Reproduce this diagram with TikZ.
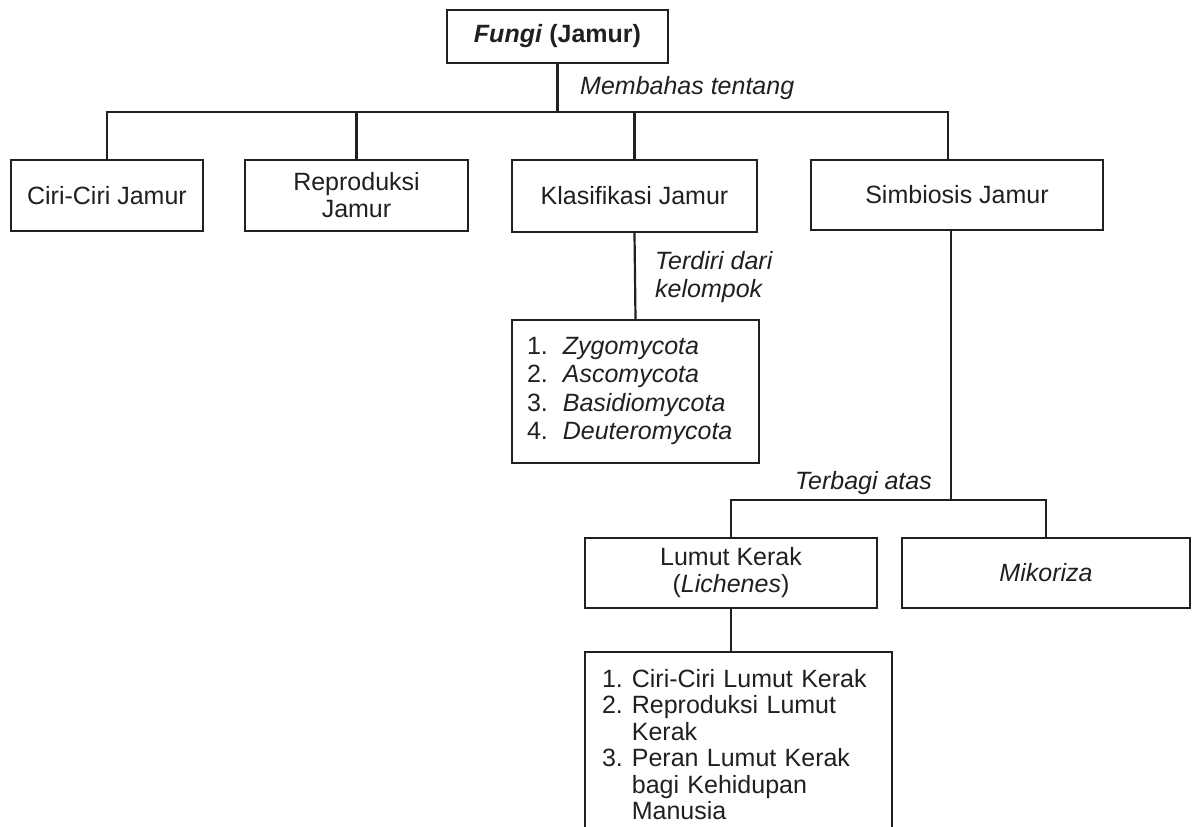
\documentclass[tikz,border=0pt]{standalone}
\usepackage{fontspec}
\setmainfont{Liberation Sans}
\usepackage{array}
\definecolor{ink}{RGB}{35,31,32}
\tikzset{
  box/.style={draw=ink, line width=2.2pt, rectangle, inner sep=0pt, align=center,
    text=ink, font=\fontsize{25}{27}\selectfont},
  listbox/.style={draw=ink, line width=2.2pt, rectangle, align=left, text=ink},
  lbl/.style={inner sep=0pt, text=ink, font=\fontsize{25}{28}\selectfont\itshape},
  conn/.style={draw=ink, line width=2.2pt}
}
\begin{document}
\begin{tikzpicture}[x=1pt,y=-1pt]
\useasboundingbox (0,0) rectangle (1192,827);
\fill[white] (0,0) rectangle (1192,827);
\clip (0,0) rectangle (1192,827);

% top node
\node[box, minimum width=221pt, minimum height=53pt] (fungi) at (557.5,36.5)
  {\textbf{\textit{Fungi} (Jamur)}};

% level 1
\node[box, minimum width=192pt, minimum height=71pt] (ciri) at (107,195.5) {Ciri-Ciri Jamur};
\node[box, minimum width=223pt, minimum height=71pt] (repro) at (356.5,195.5) {Reproduksi\\Jamur};
\node[box, minimum width=245pt, minimum height=72pt] (klas) at (634.5,196) {Klasifikasi Jamur};
\node[box, minimum width=292pt, minimum height=70pt] (simb) at (957,195) {Simbiosis Jamur};

% classification list
\node[listbox, minimum width=247pt, minimum height=143pt, text width=217pt,
      inner xsep=15pt, inner ysep=0pt, font=\fontsize{25}{28.5}\selectfont] (klist) at (635.5,391.5)
  {\begin{tabular}{@{}l@{\hspace{15pt}}>{\itshape}l@{}}
   1. & Zygomycota\\
   2. & Ascomycota\\
   3. & Basidiomycota\\
   4. & Deuteromycota
   \end{tabular}};

% symbiosis children
\node[box, minimum width=292pt, minimum height=70pt] (lumut) at (731,573)
  {Lumut Kerak\\(\textit{Lichenes})};
\node[box, minimum width=288pt, minimum height=70pt] (mikor) at (1046,573) {\textit{Mikoriza}};

% lichen list (runs off the bottom edge)
\node[listbox, anchor=north, minimum width=307pt, text width=273pt,
      inner xsep=17pt, inner ysep=16.5pt, font=\fontsize{25}{26.5}\selectfont] (llist) at (738.5,651)
  {\begin{tabular}{@{}l@{\hspace{9pt}}l@{}}
   1. & Ciri-Ciri Lumut Kerak\\
   2. & Reproduksi Lumut\\
      & Kerak\\
   3. & Peran Lumut Kerak\\
      & bagi Kehidupan\\
      & Manusia
   \end{tabular}};

% labels
\node[lbl, anchor=west] (l1) at (580,88) {Membahas tentang};
\node[lbl, anchor=west, align=left] (l2) at (655,277) {Terdiri dari\\kelompok};
\node[lbl, anchor=east] (l3) at (932,483) {Terbagi atas};

% connectors
\coordinate (bus) at (557.5,112);
\coordinate (sbus) at (948,112);
\coordinate (sj) at (951,500);
\draw[conn] (fungi.south) -- (bus);
\draw[conn] (ciri.north) |- (sbus) -- (sbus |- simb.north);
\draw[conn] (repro.north) -- (repro.north |- bus);
\draw[conn] (klas.north) -- (klas.north |- bus);
\draw[conn] (klas.south) -- (klist.north);
\draw[conn] (sj |- simb.south) -- (sj);
\draw[conn] (lumut.north) |- (sj) -| (mikor.north);
\draw[conn] (lumut.south) -- (lumut.south |- llist.north);
\end{tikzpicture}
\end{document}
